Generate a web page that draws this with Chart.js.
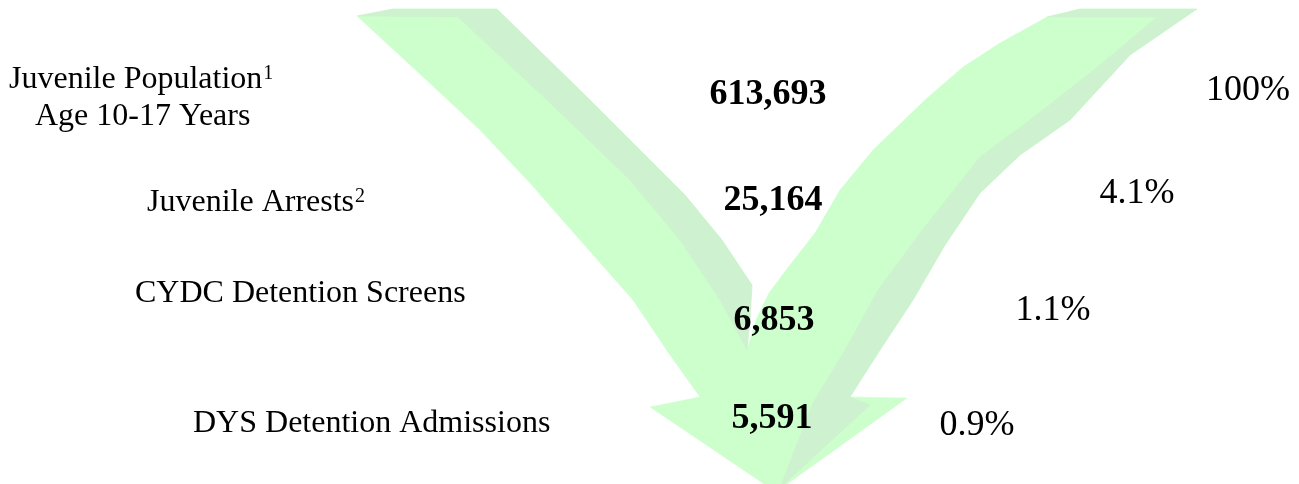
<!DOCTYPE html>
<html>
<head>
<meta charset="utf-8">
<script src="https://cdn.jsdelivr.net/npm/chart.js@4.4.1/dist/chart.umd.min.js"></script>
<style>
  html, body { margin: 0; padding: 0; background: #ffffff; }
  #wrap { position: relative; width: 1299px; height: 484px; }
</style>
</head>
<body>
<div id="wrap"><canvas id="c"></canvas></div>
<script>
// ---------- data ----------
const categories = [['Juvenile Population', 'Age 10-17 Years'], ['Juvenile Arrests'], ['CYDC Detention Screens'], ['DYS Detention Admissions']];
const footnotes = ['1', '2', '', ''];
const counts = [613693, 25164, 6853, 5591];
const percents = [100, 4.1, 1.1, 0.9];

// ---------- layout (positions in the chart's value space) ----------
const labelLayout = [
  [{ x: 9, y: 88 }, { x: 35, y: 125 }],
  [{ x: 147, y: 211 }],
  [{ x: 135, y: 302 }],
  [{ x: 193, y: 432 }]
];
const countLayout = [{ x: 768, y: 104 }, { x: 773, y: 210 }, { x: 774, y: 330 }, { x: 772, y: 428 }];
const pctLayout = [{ x: 1248, y: 100 }, { x: 1137, y: 203 }, { x: 1053, y: 320 }, { x: 977, y: 435 }];

// ---------- decorative arrow outline ----------
const arrowSilhouette = [
  [357,16],[393,9],[497,9],[590,100],[685,195],[722,240],[752,285],[750,320],[747,350],
  [756,320],[769,293],[790,265],[815,233],[840,190],[873,150],[925,100],[963,67],[1000,43],[1047,17],[1080,9],[1197,9],
  [1130,55],[1070,120],[1020,155],[980,193],[945,245],[913,300],[880,350],[850,397],[907,398],
  [776,492],[650,407],[700,397],[670,355],[633,300],[580,240],[530,183],[480,130],[420,74],[357,16]
];
const arrowLeftShade = [
  [357,16],[393,9],[497,9],[590,100],[685,195],[722,240],[752,285],[750,320],[747,350],
  [720,300],[680,240],[630,180],[547,100],[458,17],[357,16]
];
const arrowRightShade = [
  [1047,17],[1080,9],[1197,9],[1130,55],[1070,120],[1020,155],[980,193],[945,245],[913,300],[880,350],[850,397],
  [870,405],[780,488],[813,403],[845,350],[878,290],[920,233],[980,157],[1030,120],[1100,65],[1157,17],[1047,17]
];

const LIGHT = 'rgb(204,255,204)';
const SHADE = 'rgb(206,241,207)';
const toPts = arr => arr.map(p => ({ x: p[0], y: p[1] }));
const shapeDs = (arr, color) => ({
  data: toPts(arr), showLine: true, fill: 'shape', backgroundColor: color,
  borderColor: color, borderWidth: 0.5, pointRadius: 0, pointHoverRadius: 0, tension: 0
});

const fmt = n => n.toLocaleString('en-US');

const textPlugin = {
  id: 'texts',
  afterDatasetsDraw(chart) {
    const { ctx, scales: { x, y } } = chart;
    ctx.save();
    ctx.fillStyle = '#000';
    ctx.textBaseline = 'alphabetic';
    categories.forEach((lines, i) => {
      lines.forEach((line, j) => {
        const pos = labelLayout[i][j];
        const px = x.getPixelForValue(pos.x), py = y.getPixelForValue(pos.y);
        ctx.font = '32px "Liberation Serif", "Times New Roman", serif';
        ctx.textAlign = 'left';
        ctx.fillText(line, px, py);
        if (j === 0 && footnotes[i]) {
          const w = ctx.measureText(line).width;
          ctx.font = '20px "Liberation Serif", "Times New Roman", serif';
          ctx.fillText(footnotes[i], px + w + 1, py - 9);
        }
      });
      const c = countLayout[i];
      ctx.font = 'bold 36px "Liberation Serif", "Times New Roman", serif';
      ctx.textAlign = 'center';
      ctx.fillText(fmt(counts[i]), x.getPixelForValue(c.x), y.getPixelForValue(c.y));
      const p = pctLayout[i];
      ctx.font = '36px "Liberation Serif", "Times New Roman", serif';
      ctx.fillText(percents[i] + '%', x.getPixelForValue(p.x), y.getPixelForValue(p.y));
    });
    ctx.restore();
  }
};

new Chart(document.getElementById('c'), {
  type: 'scatter',
  data: {
    datasets: [
      shapeDs(arrowRightShade, SHADE),
      shapeDs(arrowLeftShade, SHADE),
      shapeDs(arrowSilhouette, LIGHT)
    ]
  },
  options: {
    responsive: true,
    maintainAspectRatio: false,
    animation: false,
    layout: { padding: 0 },
    events: [],
    scales: {
      x: { type: 'linear', min: 0, max: 1299, display: false },
      y: { type: 'linear', min: 0, max: 484, reverse: true, display: false }
    },
    plugins: {
      legend: { display: false },
      tooltip: { enabled: false },
      filler: { propagate: false }
    }
  },
  plugins: [textPlugin]
});
</script>
</body>
</html>
